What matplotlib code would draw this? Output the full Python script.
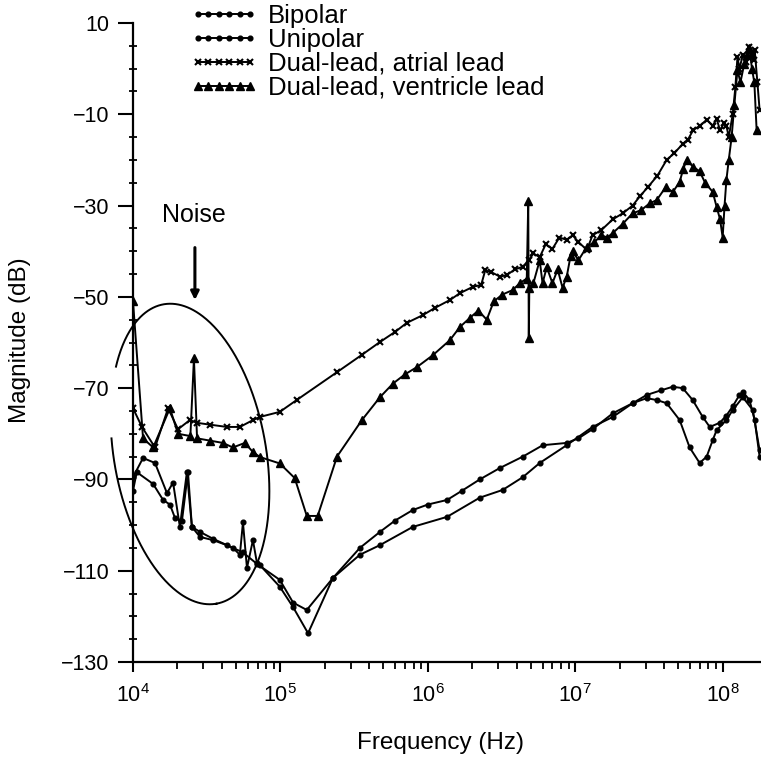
import matplotlib
matplotlib.use("Agg")
import matplotlib.pyplot as plt
from matplotlib.ticker import MultipleLocator, LogLocator, NullFormatter
import numpy as np

plt.rcParams['font.family'] = ['Liberation Sans', 'DejaVu Sans']
plt.rcParams['mathtext.fontset'] = 'custom'
plt.rcParams['mathtext.rm'] = 'Liberation Sans'
plt.rcParams['mathtext.it'] = 'Liberation Sans'

# ---- data ----
bip_f = [1.0e4, 1.17e4, 1.41e4, 1.7e4, 1.87e4, 2.08e4, 2.32e4, 2.51e4, 2.85e4, 3.49e4,
         4.33e4, 5.57e4, 6.93e4, 9.9e4, 1.22e5, 1.51e5, 2.27e5, 3.46e5, 4.73e5, 6.0e5,
         7.91e5, 1.0e6, 1.35e6, 1.7e6, 2.25e6, 3.08e6, 4.41e6, 6.02e6, 8.75e6, 1.05e7,
         1.31e7, 1.8e7, 2.45e7, 3.05e7, 3.8e7, 4.58e7, 5.36e7, 6.26e7, 7.32e7, 8.17e7,
         9.55e7, 1.06e8, 1.17e8, 1.3e8, 1.37e8, 1.52e8, 1.65e8, 1.78e8]
bip_db = [-89.5, -85.3, -86.4, -93, -90.7, -100.4, -88.4, -100.4, -102.6, -103.3,
          -104.4, -106, -108.5, -112, -117, -118.6, -111.6, -105, -101.5, -99,
          -96.7, -95.5, -94.5, -92.5, -90, -87.5, -85, -82.5, -82, -81,
          -79, -75.5, -73.3, -71.5, -70.5, -69.7, -70, -72.6, -76.3, -78.5,
          -77.6, -76, -74, -71.5, -70.8, -72.6, -77, -85]

uni_f = [1.0e4, 1.06e4, 1.37e4, 1.6e4, 1.78e4, 1.93e4, 2.15e4, 2.36e4, 2.51e4, 2.85e4,
         3.49e4, 4.76e4, 5.31e4, 5.57e4, 5.93e4, 6.51e4, 6.93e4, 7.27e4, 9.9e4, 1.22e5,
         1.54e5, 2.27e5, 3.46e5, 4.73e5, 7.91e5, 1.35e6, 2.25e6, 3.22e6, 4.41e6, 5.74e6,
         8.75e6, 1.31e7, 1.8e7, 2.45e7, 3.05e7, 3.57e7, 4.17e7, 5.11e7, 5.97e7, 6.98e7,
         7.79e7, 8.56e7, 9.1e7, 1.06e8, 1.17e8, 1.37e8, 1.6e8, 1.78e8]
uni_db = [-92.5, -88.4, -91, -94.5, -95.5, -98.5, -99, -88.4, -100.4, -101.5,
          -103, -105, -106.5, -99.4, -109.4, -103.3, -108.3, -108.8, -113.5, -118,
          -123.7, -111.6, -106.5, -104.4, -100.4, -98.2, -94, -92.3, -89.5, -86.4,
          -82.5, -78.5, -76.3, -73.3, -72.2, -72.6, -73.3, -77, -83, -86.4,
          -85, -81.4, -79.2, -77, -74.8, -72, -74.8, -83.6]

atr_f = [1.0e4, 1.15e4, 1.41e4, 1.73e4, 2.02e4, 2.43e4, 2.72e4, 3.33e4, 4.33e4, 5.31e4,
         6.51e4, 7.27e4, 9.9e4, 1.29e5, 2.42e5, 3.57e5, 4.73e5, 5.98e5, 7.2e5, 9.25e5,
         1.12e6, 1.41e6, 1.65e6, 2.02e6, 2.3e6, 2.45e6, 2.7e6, 3.1e6, 3.43e6, 3.9e6,
         4.4e6, 4.84e6, 5.2e6, 5.74e6, 6.3e6, 7.0e6, 7.8e6, 8.75e6, 9.61e6, 1.05e7,
         1.2e7, 1.31e7, 1.5e7, 1.8e7, 2.1e7, 2.45e7, 2.74e7, 3.1e7, 3.6e7, 4.17e7,
         4.7e7, 5.36e7, 5.8e7, 6.3e7, 7.0e7, 7.8e7, 8.56e7, 9.1e7, 9.6e7, 1.02e8,
         1.06e8, 1.1e8, 1.17e8, 1.22e8, 1.26e8, 1.3e8, 1.37e8, 1.45e8, 1.52e8, 1.57e8,
         1.62e8, 1.65e8, 1.72e8, 1.78e8]
atr_db = [-74.4, -78.5, -83, -74.4, -79, -77, -77.6, -78, -78.5, -78.5,
          -77, -76.3, -75.2, -72.6, -66.5, -62.7, -59.9, -57.7, -55.7, -54,
          -52.4, -50.7, -49.2, -47.8, -47.4, -44.2, -44.6, -45.6, -45.2, -44,
          -43.4, -42, -40.5, -41.3, -38.5, -39.5, -37, -37.5, -36.5, -38,
          -39.7, -36.5, -35.4, -33, -31.7, -30, -28, -26, -23.5, -20,
          -18.5, -16.5, -15.6, -13.5, -12.5, -11.2, -12.5, -11, -13.5, -12,
          -12.5, -15, -10, -4, 2.5, 0, 3, 1.5, 4.7, 3,
          2, 4, -3, -9]

ven_f = [1.0e4, 1.17e4, 1.37e4, 1.78e4, 2.02e4, 2.45e4, 2.59e4, 2.72e4, 3.33e4, 4.07e4,
         4.76e4, 5.74e4, 6.51e4, 7.27e4, 9.9e4, 1.25e5, 1.51e5, 1.79e5, 2.42e5, 3.57e5,
         4.73e5, 5.8e5, 6.98e5, 8.42e5, 1.08e6, 1.41e6, 1.65e6, 1.93e6, 2.2e6, 2.51e6,
         2.8e6, 3.2e6, 3.77e6, 4.2e6, 4.69e6, 4.8e6, 4.84e6, 4.88e6, 5.2e6, 5.74e6,
         6.0e6, 6.41e6, 7.0e6, 7.6e6, 8.2e6, 8.75e6, 9.3e6, 9.61e6, 1.05e7, 1.2e7,
         1.35e7, 1.5e7, 1.65e7, 1.8e7, 2.1e7, 2.45e7, 2.8e7, 3.2e7, 3.57e7, 4.1e7,
         4.6e7, 5.11e7, 5.4e7, 5.7e7, 6.3e7, 6.98e7, 7.6e7, 8.56e7, 9.1e7, 9.6e7,
         1.0e8, 1.03e8, 1.06e8, 1.1e8, 1.15e8, 1.2e8, 1.26e8, 1.32e8, 1.4e8, 1.46e8,
         1.52e8, 1.58e8, 1.64e8, 1.7e8]
ven_db = [-51, -81, -83, -74.4, -80, -80.5, -63.5, -81, -81.5, -82,
          -83, -82, -84, -85.1, -86.5, -89.7, -98, -98, -85, -77,
          -72, -69, -67, -65.4, -62.8, -59.5, -56.6, -54.6, -53, -55,
          -51, -49.5, -48.5, -47, -46, -29, -59, -48, -47, -42,
          -47, -43.5, -47, -44, -48, -45.6, -41, -40, -42, -39,
          -38, -36.5, -37, -36, -34, -31.7, -31, -29.5, -28.8, -26,
          -27, -24.8, -22, -20, -21.5, -22.5, -25, -27, -30.3, -33,
          -37, -30, -24.4, -20, -15, -8, -0.3, -3, 1, 3,
          4.5, 0, -3, -13.5]

labels = ['Bipolar', 'Unipolar', 'Dual-lead, atrial lead', 'Dual-lead, ventricle lead']
ytick_vals = [10, -10, -30, -50, -70, -90, -110, -130]
ytick_text = ['10', '\u221210', '\u221230', '\u221250', '\u221270', '\u221290', '\u2212110', '\u2212130']

fig = plt.figure(figsize=(7.61, 7.69), dpi=100)
# axes box in pixels: x 133..761, y 23..662
ax = fig.add_axes([133 / 761, 1 - 662 / 769, 628 / 761, 639 / 769])

lw = 1.4
ax.plot(bip_f, bip_db, color='k', lw=lw, marker='o', ms=3.4, label=labels[0])
ax.plot(uni_f, uni_db, color='k', lw=lw, marker='o', ms=3.4, label=labels[1])
ax.plot(atr_f, atr_db, color='k', lw=lw, marker='x', ms=4.5, mew=1.5, label=labels[2])
ax.plot(ven_f, ven_db, color='k', lw=lw, marker='^', ms=6, label=labels[3])

ax.set_xscale('log')
ax.set_xlim(1e4, 1.82e8)
ax.set_ylim(-130, 10)

ax.set_yticks(ytick_vals)
ax.set_yticklabels(ytick_text)
ax.yaxis.set_minor_locator(MultipleLocator(5))
ax.xaxis.set_major_locator(LogLocator(base=10, numticks=10))
ax.xaxis.set_minor_locator(LogLocator(base=10, subs=np.arange(2, 10), numticks=100))
ax.xaxis.set_minor_formatter(NullFormatter())

ax.spines['top'].set_visible(False)
ax.spines['right'].set_visible(False)
for s in ['left', 'bottom']:
    ax.spines[s].set_linewidth(1.6)

ax.tick_params(axis='y', which='major', direction='out', length=11, width=1.5,
               labelsize=15.5, pad=6)
ax.tick_params(axis='y', which='minor', direction='inout', length=6, width=1.3)
ax.tick_params(axis='x', which='major', direction='out', length=7, width=1.5,
               labelsize=15.5, pad=9)
ax.tick_params(axis='x', which='minor', direction='out', length=5, width=1.3)

ax.set_xlabel('Frequency (Hz)', fontsize=17.5)
ax.set_ylabel('Magnitude (dB)', fontsize=17.5)
ax.xaxis.set_label_coords(0.49, -0.11)
ax.yaxis.set_label_coords(-0.162, 0.504)

# noise annotation
ax.annotate('', xy=(2.63e4, -51.3), xytext=(2.63e4, -38.6),
            arrowprops=dict(arrowstyle='-|>', color='k', lw=2.2, mutation_scale=12))
ax.text(2.6e4, -32.1, 'Noise', fontsize=18, ha='center', va='center')

# hand-drawn ellipse around the noise region (pixel geometry -> axes fraction)
t = np.linspace(0, 2 * np.pi, 500)
alpha = np.radians(10)
cx, cy, a, b = 190, 454, 152, 76
px = cx + a * np.cos(t) * np.sin(alpha) + b * np.sin(t) * np.cos(alpha)
py = cy + a * np.cos(t) * np.cos(alpha) - b * np.sin(t) * np.sin(alpha)
gap = (px < 125) & (py > 368) & (py < 438)
px = np.where(gap, np.nan, px)
ax.plot((px - 133) / 628, (662 - py) / 639, color='k', lw=1.4,
        transform=ax.transAxes, clip_on=False)

leg = ax.legend(loc='upper left', bbox_to_anchor=(190 / 761, 1 - 4 / 769),
                bbox_transform=fig.transFigure, frameon=False, fontsize=18.5,
                numpoints=6, handlelength=2.65, handletextpad=0.38,
                labelspacing=0.0, borderpad=0, borderaxespad=0)

fig.savefig('out.png', dpi=100)
